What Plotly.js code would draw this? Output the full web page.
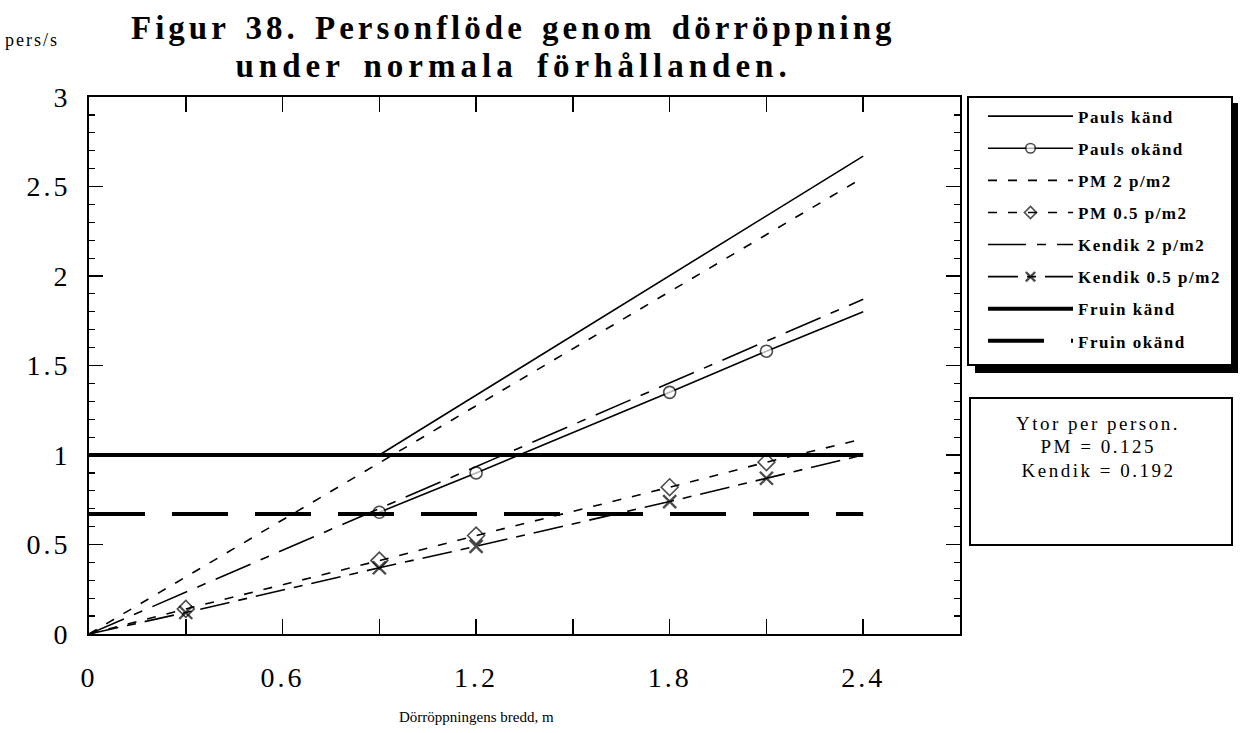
<!DOCTYPE html>
<html>
<head>
<meta charset="utf-8">
<script src="https://cdn.plot.ly/plotly-3.0.1.min.js"></script>
<style>
html,body{margin:0;padding:0;background:#fff;}
#chart{width:1249px;height:733px;}
#chart .xtick text,#chart .ytick text{letter-spacing:3px;}
.legendtext{letter-spacing:1.5px;}
#chart g.annotation[data-index="0"] text{letter-spacing:2px;}
#chart g.annotation[data-index="2"] text{letter-spacing:4px;word-spacing:4px;}
#chart g.annotation[data-index="3"] text{letter-spacing:5px;word-spacing:6px;}
#chart g.annotation[data-index="4"] text,
#chart g.annotation[data-index="5"] text,
#chart g.annotation[data-index="6"] text{letter-spacing:2.5px;}
</style>
</head>
<body>
<div id="chart"></div>
<script>
// ---- data ----
const seriesNames = ["Pauls känd","Pauls okänd","PM 2 p/m2","PM 0.5 p/m2","Kendik 2 p/m2","Kendik 0.5 p/m2","Fruin känd","Fruin okänd"];

const paulsKandX = [0.9, 2.4];
const paulsKandY = [1.0, 2.67];

const paulsOkandX = [0.9, 1.2, 1.8, 2.1, 2.4];
const paulsOkandY = [0.68, 0.9, 1.35, 1.58, 1.8];
const paulsOkandMarked = [1, 1, 1, 1, 0];

const pm2X = [0, 2.4];
const pm2Y = [0, 2.55];

const pm05X = [0, 0.3, 0.9, 1.2, 1.8, 2.1, 2.4];
const pm05Y = [0, 0.14, 0.41, 0.55, 0.82, 0.96, 1.09];
const pm05Marked = [0, 1, 1, 1, 1, 1, 0];

const kendik2X = [0, 2.4];
const kendik2Y = [0, 1.87];

const kendik05X = [0, 0.3, 0.9, 1.2, 1.8, 2.1, 2.4];
const kendik05Y = [0, 0.12, 0.37, 0.49, 0.74, 0.87, 1.0];
const kendik05Marked = [0, 1, 1, 1, 1, 1, 0];

const fruinKandX = [0, 2.4];
const fruinKandY = [1.0, 1.0];

const fruinOkandX = [0, 2.4];
const fruinOkandY = [0.67, 0.67];

const xTickVals = [0, 0.3, 0.6, 0.9, 1.2, 1.5, 1.8, 2.1, 2.4, 2.7];
const xTickText = ["0", "", "0.6", "", "1.2", "", "1.8", "", "2.4", ""];

const titleLines = ["Figur 38. Personflöde genom dörröppning", "under normala förhållanden."];
const yUnitText = "pers/s";
const xTitleText = "Dörröppningens bredd, m";
const noteLines = ["Ytor per person.", "PM = 0.125", "Kendik = 0.192"];

// ---- drawing ----
const SERIF = "Liberation Serif, Times New Roman, serif";
const sizes = (flags, s) => flags.map(f => f ? s : 0);

function tr(name, x, y, line, marker) {
  const t = {
    type: "scatter", mode: marker ? "lines+markers" : "lines", name: name, x: x, y: y,
    line: line, legendgroup: name, hoverinfo: "skip", cliponaxis: false
  };
  if (marker) t.marker = marker;
  return t;
}

const traces = [
  tr(seriesNames[0], paulsKandX, paulsKandY, {color: "#000", width: 1.6}),
  tr(seriesNames[1], paulsOkandX, paulsOkandY, {color: "#000", width: 1.6},
     {symbol: "circle", size: sizes(paulsOkandMarked, 12), color: "#fff", line: {color: "#000", width: 1.6}}),
  tr(seriesNames[2], pm2X, pm2Y, {color: "#000", width: 1.6, dash: "9px,11px"}),
  tr(seriesNames[3], pm05X, pm05Y, {color: "#000", width: 1.6, dash: "9px,11px"},
     {symbol: "diamond-open", size: sizes(pm05Marked, 13), color: "#000", line: {color: "#000", width: 1.6}}),
  tr(seriesNames[4], kendik2X, kendik2Y, {color: "#000", width: 1.6, dash: "38px,11px,9px,11px"}),
  tr(seriesNames[5], kendik05X, kendik05Y, {color: "#000", width: 1.6, dash: "30px,9px,9px,9px"},
     {symbol: "x-thin", size: sizes(kendik05Marked, 13), color: "#000", line: {color: "#000", width: 2.4}}),
  tr(seriesNames[6], fruinKandX, fruinKandY, {color: "#000", width: 4}),
  tr(seriesNames[7], fruinOkandX, fruinOkandY, {color: "#000", width: 4, dash: "56px,27px"})
];

const px2x = px => (px - 89) / 871;
const py2y = py => 1 + (97 - py) / 537;

const titleAnn = titleLines.map((t, i) => ({
  xref: "paper", yref: "paper", x: px2x(513), y: py2y(i === 0 ? 28 : 66),
  text: t, showarrow: false, xanchor: "center", yanchor: "middle",
  font: {family: SERIF, size: 33, color: "#000", weight: "bold"}
}));

const noteAnn = noteLines.map((t, i) => ({
  xref: "paper", yref: "paper", x: px2x(1098), y: py2y(423 + i * 23.5),
  text: t, showarrow: false, xanchor: "center", yanchor: "middle",
  font: {family: SERIF, size: 19, color: "#000"}
}));

const layout = {
  width: 1249, height: 733,
  margin: {l: 89, r: 289, t: 97, b: 99},
  paper_bgcolor: "#fff", plot_bgcolor: "#fff",
  font: {family: SERIF, color: "#000"},
  xaxis: {
    range: [0, 2.7], showgrid: false, zeroline: false,
    showline: true, linecolor: "#000", linewidth: 2, mirror: "ticks",
    ticks: "inside", ticklen: 15, tickwidth: 1.5, tickcolor: "#000",
    tickmode: "array", tickvals: xTickVals, ticktext: xTickText,
    tickfont: {family: SERIF, size: 28, color: "#000"}, ticklabelstandoff: 17
  },
  yaxis: {
    range: [0, 3], showgrid: false, zeroline: false,
    showline: true, linecolor: "#000", linewidth: 2, mirror: "ticks",
    ticks: "inside", ticklen: 14, tickwidth: 1.5, tickcolor: "#000",
    dtick: 0.5, tick0: 0,
    minor: {dtick: 0.1, ticks: "inside", ticklen: 6, tickwidth: 1.2, tickcolor: "#000", showgrid: false},
    tickfont: {family: SERIF, size: 28, color: "#000"}, ticklabelstandoff: 11
  },
  showlegend: true,
  legend: {
    x: px2x(983), xanchor: "left", y: 0.997, yanchor: "top",
    bgcolor: "rgba(0,0,0,0)", borderwidth: 0,
    traceorder: "grouped", tracegroupgap: 7, itemwidth: 85,
    font: {family: SERIF, size: 17, color: "#000", weight: "bold"},
    itemclick: false, itemdoubleclick: false
  },
  shapes: [
    {type: "rect", xref: "paper", yref: "paper", x0: px2x(975), x1: px2x(1238), y0: py2y(373), y1: py2y(103),
     fillcolor: "#000", line: {width: 0}, layer: "above"},
    {type: "rect", xref: "paper", yref: "paper", x0: px2x(968), x1: px2x(1232), y0: py2y(365), y1: 1.0,
     fillcolor: "#fff", line: {color: "#000", width: 2}, layer: "above"},
    {type: "rect", xref: "paper", yref: "paper", x0: px2x(970), x1: px2x(1232), y0: py2y(545), y1: py2y(398),
     fillcolor: "#fff", line: {color: "#000", width: 2}, layer: "above"}
  ],
  annotations: [
    {xref: "paper", yref: "paper", x: px2x(9), y: py2y(40), xanchor: "left", yanchor: "middle",
     text: yUnitText, showarrow: false, font: {family: SERIF, size: 18, color: "#000"}},
    {xref: "paper", yref: "paper", x: px2x(476), y: py2y(717), xanchor: "center", yanchor: "middle",
     text: xTitleText, showarrow: false, font: {family: SERIF, size: 15, color: "#000"}}
  ].concat(titleAnn, noteAnn)
};

Plotly.newPlot("chart", traces, layout, {staticPlot: true, displayModeBar: false});
</script>
</body>
</html>
